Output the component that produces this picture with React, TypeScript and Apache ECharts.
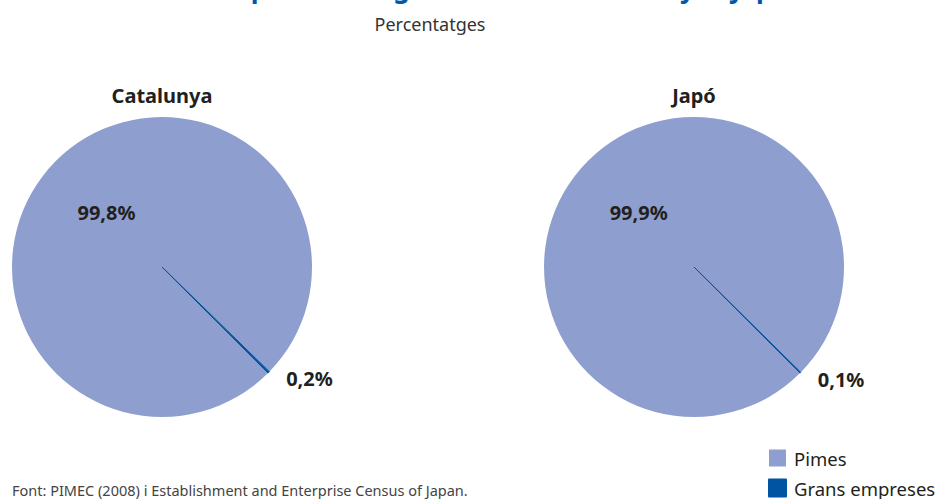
import React, { useEffect, useRef } from "react";
import * as echarts from "echarts";

const titleText = "Pes de les pimes i les grans al total. Catalunya i Japó";
const subtitleText = "Percentatges";
const sourceText = "Font: PIMEC (2008) i Establishment and Enterprise Census of Japan.";
const categories = ["Pimes", "Grans empreses"];
const regions = ["Catalunya", "Japó"];
const catalunyaValues = [99.8, 0.2];
const japoValues = [99.9, 0.1];
const colors = ["#8e9fcf", "#0054a1"];

const FONT = "'Noto Sans', 'Open Sans', sans-serif";

function fmt(v: number) {
  return v.toFixed(1).replace(".", ",") + "%";
}

function makeSeries(name: string, values: number[], cx: number) {
  return {
    type: "pie",
    name,
    center: [cx, 267],
    radius: 150,
    startAngle: -45,
    clockwise: true,
    avoidLabelOverlap: false,
    silent: true,
    emphasis: { disabled: true },
    labelLine: { show: false, length: 9, length2: 6 },
    data: values.map((v, i) => ({
      name: categories[i],
      value: v,
      itemStyle:
        i === 0
          ? { color: colors[i] }
          : { color: colors[i], borderColor: colors[i], borderWidth: 1 },
      label: {
        show: true,
        position: i === 0 ? "inside" : "outside",
        formatter: () => fmt(v),
        fontFamily: FONT,
        fontWeight: "bold",
        fontSize: 20,
        color: "#231f20",
      },
    })),
  };
}

export default function App() {
  const ref = useRef<HTMLDivElement>(null);
  useEffect(() => {
    document.body.style.margin = "0";
    if (!ref.current) return;
    const chart = echarts.init(ref.current, null, { renderer: "svg" });
    chart.setOption({
      animation: false,
      textStyle: { fontFamily: FONT },
      legend: {
        orient: "vertical",
        left: 768,
        top: 448,
        height: 80,
        padding: 0,
        itemWidth: 17,
        itemHeight: 17,
        itemGap: 10,
        icon: "rect",
        data: categories,
        textStyle: {
          fontFamily: FONT,
          fontSize: 18.5,
          lineHeight: 20,
          color: "#231f20",
          padding: [0, 0, 0, 3],
        },
        selectedMode: false,
      },
      graphic: [
        {
          type: "text",
          x: 453,
          y: 1,
          style: {
            text: titleText,
            fontFamily: FONT,
            fontWeight: "bold",
            fontSize: 26,
            fill: "#0059a8",
            textAlign: "center",
            textVerticalAlign: "bottom",
          },
        },
        {
          type: "text",
          x: 430,
          y: 24,
          style: {
            text: subtitleText,
            fontFamily: FONT,
            fontSize: 18,
            fill: "#333333",
            textAlign: "center",
            textVerticalAlign: "middle",
          },
        },
        {
          type: "text",
          x: 162,
          y: 95,
          style: {
            text: regions[0],
            fontFamily: FONT,
            fontWeight: "bold",
            fontSize: 20,
            fill: "#231f20",
            textAlign: "center",
            textVerticalAlign: "middle",
          },
        },
        {
          type: "text",
          x: 694,
          y: 95,
          style: {
            text: regions[1],
            fontFamily: FONT,
            fontWeight: "bold",
            fontSize: 20,
            fill: "#231f20",
            textAlign: "center",
            textVerticalAlign: "middle",
          },
        },
        {
          type: "text",
          x: 12,
          y: 490,
          style: {
            text: sourceText,
            fontFamily: FONT,
            fontSize: 14.5,
            fill: "#444444",
            textAlign: "left",
            textVerticalAlign: "middle",
          },
        },
      ],
      series: [
        makeSeries(regions[0], catalunyaValues, 162),
        makeSeries(regions[1], japoValues, 694),
      ],
    });
    return () => chart.dispose();
  }, []);
  return <div ref={ref} style={{ width: 939, height: 499 }} />;
}
